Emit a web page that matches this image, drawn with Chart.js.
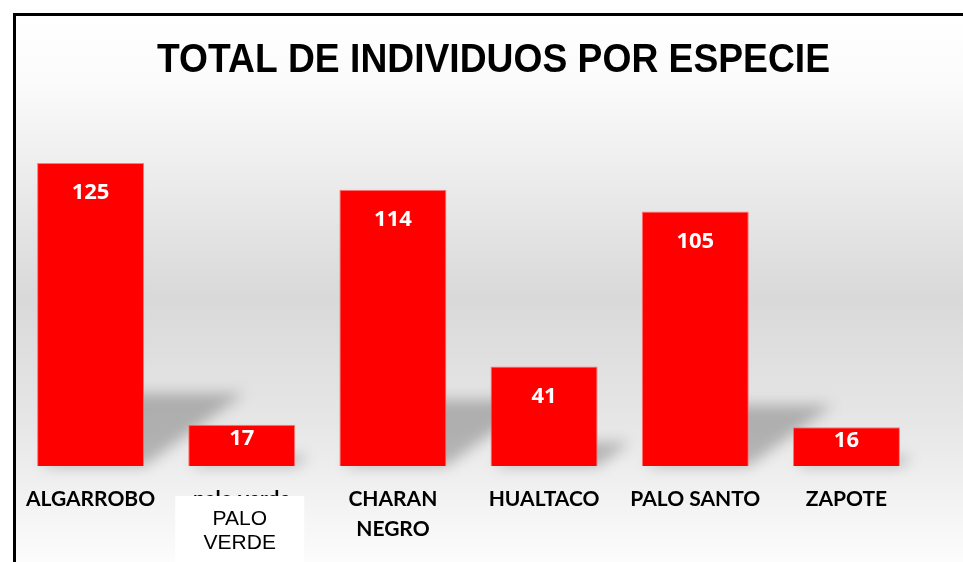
<!DOCTYPE html>
<html>
<head>
<meta charset="utf-8">
<script src="https://cdn.jsdelivr.net/npm/chart.js@4/dist/chart.umd.min.js"></script>
<style>
  html, body { margin: 0; padding: 0; background: #ffffff; }
  #wrap { width: 963px; height: 562px; position: relative; }
</style>
</head>
<body>
<div id="wrap"><canvas id="c" width="963" height="562"></canvas></div>
<script>
const categories = ['ALGARROBO', 'palo verde', ['CHARAN', 'NEGRO'], 'HUALTACO', 'PALO SANTO', 'ZAPOTE'];
const values = [125, 17, 114, 41, 105, 16];
const titleText = 'TOTAL DE INDIVIDUOS POR ESPECIE';
const overlayLines = ['PALO', 'VERDE'];
const overlayIndex = 1;

const bgPlugin = {
  id: 'bg',
  beforeDraw(chart) {
    const ctx = chart.ctx;
    const W = chart.width, H = chart.height;
    ctx.save();
    ctx.fillStyle = '#ffffff';
    ctx.fillRect(0, 0, W, H);
    const g = ctx.createLinearGradient(0, 14, 0, 580);
    g.addColorStop(0, '#ffffff');
    g.addColorStop(0.12, '#fbfbfb');
    g.addColorStop(0.5, '#d9d9d9');
    g.addColorStop(0.72, '#e6e6e6');
    g.addColorStop(1, '#ffffff');
    ctx.fillStyle = g;
    ctx.fillRect(14, 14, W - 14, H - 14);
    ctx.fillStyle = '#000000';
    ctx.fillRect(13, 13, W - 13, 3);
    ctx.fillRect(13, 13, 3, H - 13);
    ctx.restore();
  },
  afterDraw(chart) {
    // title, horizontally condensed like the original
    const ctx = chart.ctx;
    ctx.save();
    ctx.font = 'bold 40px "Liberation Sans", Arial, sans-serif';
    ctx.fillStyle = '#000000';
    ctx.textAlign = 'center';
    ctx.textBaseline = 'alphabetic';
    const w = ctx.measureText(titleText).width;
    const sx = 673 / w;
    ctx.translate(493.5, 72);
    ctx.scale(sx, 1.03);
    ctx.fillText(titleText, 0, 0);
    ctx.restore();
  }
};

const shadowPlugin = {
  id: 'barShadow',
  beforeDatasetsDraw(chart) {
    const ctx = chart.ctx;
    const meta = chart.getDatasetMeta(0);
    ctx.save();
    ctx.filter = 'blur(7px)';
    ctx.fillStyle = 'rgba(0,0,0,0.24)';
    meta.data.forEach(bar => {
      const p = bar.getProps(['x', 'y', 'base', 'width'], true);
      const l = p.x - p.width / 2, r = p.x + p.width / 2;
      const h = p.base - p.y;
      const dx = h * 0.33, dy = h * 0.24;
      ctx.beginPath();
      ctx.moveTo(l + 4, p.base);
      ctx.lineTo(r, p.base);
      ctx.lineTo(r + dx, p.base - dy);
      ctx.lineTo(l + dx, p.base - dy);
      ctx.closePath();
      ctx.fill();
    });
    ctx.restore();
  }
};

const labelPlugin = {
  id: 'valLabels',
  afterDatasetsDraw(chart) {
    const ctx = chart.ctx;
    const meta = chart.getDatasetMeta(0);
    ctx.save();
    ctx.fillStyle = '#ffffff';
    ctx.font = 'bold 22px "Open Sans", "Liberation Sans", sans-serif';
    ctx.textAlign = 'center';
    ctx.textBaseline = 'middle';
    meta.data.forEach((bar, i) => {
      const p = bar.getProps(['x', 'y', 'base'], true);
      const h = p.base - p.y;
      ctx.fillText(String(values[i]), p.x, p.y + Math.min(30, h * 0.35));
    });
    ctx.restore();
  }
};

const overlayPlugin = {
  id: 'overlayBox',
  afterDraw(chart) {
    const ctx = chart.ctx;
    const xs = chart.scales.x;
    const cx = xs.getPixelForValue(overlayIndex) - 2;
    const top = chart.chartArea.bottom + 30;
    ctx.save();
    ctx.fillStyle = '#ffffff';
    ctx.fillRect(cx - 64.5, top, 129, chart.height - top);
    ctx.fillStyle = '#000000';
    ctx.font = '21px "Liberation Sans", Arial, sans-serif';
    ctx.textAlign = 'center';
    ctx.textBaseline = 'middle';
    overlayLines.forEach((t, i) => ctx.fillText(t, cx, top + 23 + i * 24));
    ctx.restore();
  }
};

new Chart(document.getElementById('c'), {
  type: 'bar',
  data: {
    labels: categories,
    datasets: [{
      data: values,
      backgroundColor: '#ff0000',
      borderColor: 'rgba(255,110,110,0.9)',
      borderWidth: 1,
      barPercentage: 1,
      categoryPercentage: 0.708
    }]
  },
  options: {
    responsive: false,
    animation: false,
    devicePixelRatio: 1,
    layout: { padding: { left: 15, right: 41, top: 126.6, bottom: 0 } },
    plugins: {
      legend: { display: false },
      tooltip: { enabled: false },
      title: { display: false }
    },
    scales: {
      x: {
        grid: { display: false },
        border: { display: false },
        ticks: {
          color: '#000000',
          padding: 10,
          maxRotation: 0,
          autoSkip: false,
          font: { family: 'Lato, "Open Sans", sans-serif', size: 21, weight: 'bold', lineHeight: 1.45 }
        },
        afterFit(scale) { scale.height = 96; }
      },
      y: {
        display: false,
        min: 0,
        max: 140
      }
    }
  },
  plugins: [bgPlugin, shadowPlugin, labelPlugin, overlayPlugin]
});
</script>
</body>
</html>
